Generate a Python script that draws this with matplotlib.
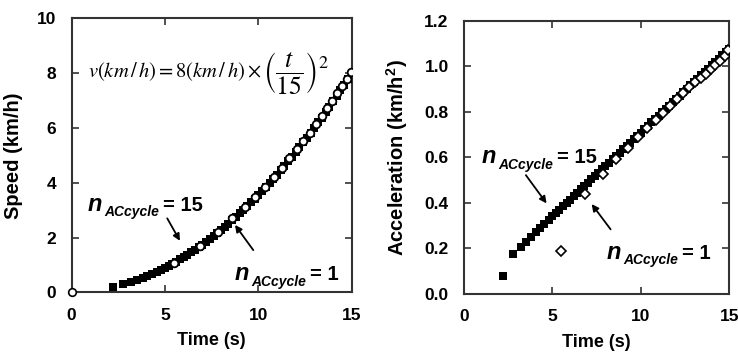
import matplotlib
matplotlib.use("Agg")
import matplotlib.pyplot as plt
from matplotlib.transforms import offset_copy

plt.rcParams['font.family'] = ['Liberation Sans', 'DejaVu Sans']
plt.rcParams['mathtext.fontset'] = 'stix'

# n_ACcycle = 15 (filled squares)
t15 = [2.2, 2.75, 3.2, 3.5, 3.8, 4.05, 4.3, 4.55, 4.8, 5.0, 5.2, 5.4, 5.6, 5.8, 6.0,
       6.2, 6.4, 6.6, 6.8, 7.0, 7.2, 7.4, 7.6, 7.8, 8.0, 8.2, 8.4, 8.6, 8.8, 9.0,
       9.2, 9.4, 9.6, 9.8, 10.0, 10.2, 10.4, 10.6, 10.8, 11.0, 11.2, 11.4, 11.6, 11.8, 12.0,
       12.2, 12.4, 12.6, 12.8, 13.0, 13.2, 13.4, 13.6, 13.8, 14.0, 14.2, 14.4, 14.6, 14.8, 15.0]
v15 = [0.19, 0.30, 0.36, 0.44, 0.51, 0.58, 0.66, 0.74, 0.82, 0.89, 0.96, 1.04, 1.12, 1.20, 1.28,
       1.37, 1.46, 1.55, 1.64, 1.74, 1.84, 1.95, 2.05, 2.16, 2.28, 2.39, 2.51, 2.63, 2.75, 2.88,
       3.01, 3.14, 3.28, 3.42, 3.56, 3.70, 3.85, 4.00, 4.15, 4.30, 4.46, 4.62, 4.79, 4.95, 5.12,
       5.29, 5.47, 5.65, 5.83, 6.01, 6.20, 6.38, 6.58, 6.77, 6.97, 7.17, 7.37, 7.58, 7.79, 8.00]
a15 = [0.08, 0.175, 0.208, 0.230, 0.252, 0.271, 0.289, 0.308, 0.326, 0.341, 0.356, 0.370, 0.385, 0.400, 0.415,
       0.429, 0.444, 0.459, 0.474, 0.488, 0.503, 0.518, 0.533, 0.547, 0.562, 0.577, 0.591, 0.606, 0.621, 0.636,
       0.650, 0.665, 0.680, 0.695, 0.709, 0.724, 0.739, 0.754, 0.768, 0.783, 0.798, 0.812, 0.827, 0.842, 0.857,
       0.871, 0.886, 0.901, 0.916, 0.930, 0.945, 0.960, 0.975, 0.989, 1.004, 1.019, 1.034, 1.048, 1.063, 1.078]

# n_ACcycle = 1 (open markers)
t1 = [5.46, 6.87, 7.84, 8.58, 9.26, 9.84, 10.35, 10.83, 11.26, 11.67, 12.06,
      12.40, 12.75, 13.08, 13.39, 13.67, 13.95, 14.22, 14.49, 14.74, 14.94]
v1 = [1.06, 1.68, 2.19, 2.70, 3.10, 3.49, 3.85, 4.20, 4.55, 4.89, 5.22,
      5.52, 5.82, 6.14, 6.44, 6.72, 6.98, 7.26, 7.52, 7.80, 8.05]
a1 = [0.19, 0.44, 0.527, 0.592, 0.643, 0.689, 0.728, 0.764, 0.796, 0.825, 0.855,
      0.884, 0.907, 0.929, 0.949, 0.968, 0.986, 1.005, 1.024, 1.045, 1.07]
t1_start = [0.0]
v1_start = [0.0]

speed_ticks = [0, 2, 4, 6, 8, 10]
acc_ticks = [0.0, 0.2, 0.4, 0.6, 0.8, 1.0, 1.2]
time_ticks = [0, 5, 10, 15]

fig = plt.figure(figsize=(7.38, 3.6), dpi=100)
ax1 = fig.add_axes([0.0971, 0.188, 0.3794, 0.761])
ax2 = fig.add_axes([0.6287, 0.1833, 0.3595, 0.759])
renderer = fig.canvas.get_renderer()

frame_col = '#333333'
for ax in (ax1, ax2):
    for s in ax.spines.values():
        s.set_linewidth(1.5)
        s.set_color(frame_col)
    ax.tick_params(direction='in', length=5, width=1.2, color=frame_col,
                   top=True, right=True, labelsize=12.5)
    ax.tick_params(axis='x', pad=11)
    ax.tick_params(axis='y', pad=11)


def width_pt(t):
    return t.get_window_extent(renderer).width * 72.0 / fig.dpi


def n_label(ax, x, y, value):
    """Draw n_ACcycle = value, starting at data (x, y) baseline."""
    t_n = ax.text(x, y, 'n', fontsize=17, fontweight='bold', fontstyle='italic',
                  ha='left', va='baseline')
    w_n = width_pt(t_n)
    tr_sub = offset_copy(ax.transData, fig=fig, x=w_n + 1.5, y=-4, units='points')
    t_s = ax.text(x, y, 'ACcycle', fontsize=10, fontweight='bold', fontstyle='italic',
                  ha='left', va='baseline', transform=tr_sub)
    w_s = width_pt(t_s)
    tr_eq = offset_copy(ax.transData, fig=fig, x=w_n + 1.5 + w_s + 3, y=0, units='points')
    ax.text(x, y, '= ' + value, fontsize=14.5, fontweight='bold',
            ha='left', va='baseline', transform=tr_eq)


arrow = dict(arrowstyle='-|>', color='black', lw=1.3, mutation_scale=10, shrinkA=0, shrinkB=0)

# Left: speed
ax1.plot(t15, v15, 's', color='black', markersize=5.5, markeredgewidth=0, zorder=3)
ax1.plot(t1, v1, 'o', markerfacecolor='white', markeredgecolor='black',
         markersize=5.5, markeredgewidth=1.3, zorder=4)
ax1.plot(t1_start, v1_start, 'o', markerfacecolor='white', markeredgecolor='black',
         markersize=5.5, markeredgewidth=1.2, zorder=5, clip_on=False)
ax1.set_xlim(0, 15)
ax1.set_ylim(0, 10)
ax1.set_xticks(time_ticks)
ax1.set_yticks(speed_ticks)
ax1.set_xticklabels([str(v) for v in time_ticks], fontweight='bold')
ax1.set_yticklabels([str(v) for v in speed_ticks], fontweight='bold')
ax1.set_xlabel('Time (s)', fontsize=13, fontweight='bold', labelpad=7)
ax1.set_ylabel('Speed (km/h)', fontsize=14.5, fontweight='bold', labelpad=10)

# formula: main part + enlarged bracketed fraction
f_main = ax1.text(0.87, 7.85, r'$v(km\,/\,h) = 8(km\,/\,h)\times$',
                  fontsize=14.8, ha='left', va='baseline')
w_main = width_pt(f_main)
tr_frac = offset_copy(ax1.transData, fig=fig, x=w_main + 1, y=0, units='points')
ax1.text(0.87, 7.85, r'$\left(\dfrac{t}{15}\right)^{2}$', fontsize=18.5,
         ha='left', va='baseline', transform=tr_frac)

n_label(ax1, 0.87, 2.98, '15')
ax1.annotate('', xy=(5.80, 1.88), xytext=(5.12, 2.70), arrowprops=arrow)
n_label(ax1, 8.75, 0.45, '1')
ax1.annotate('', xy=(8.75, 2.46), xytext=(9.73, 1.54), arrowprops=arrow)

# Right: acceleration
ax2.plot(t15, a15, 's', color='black', markersize=5.5, markeredgewidth=0, zorder=3)
ax2.plot(t1, a1, 'D', markerfacecolor='white', markeredgecolor='black',
         markersize=5.5, markeredgewidth=1.2, zorder=4)
ax2.set_xlim(0, 15)
ax2.set_ylim(0, 1.2)
ax2.set_xticks(time_ticks)
ax2.set_yticks(acc_ticks)
ax2.set_xticklabels([str(v) for v in time_ticks], fontweight='bold')
ax2.set_yticklabels(['%.1f' % v for v in acc_ticks], fontweight='bold')
ax2.set_xlabel('Time (s)', fontsize=13, fontweight='bold', labelpad=7)
ax2.set_ylabel('Acceleration (km/h$^{\\mathregular{2}}$)', fontsize=14.5, fontweight='bold', labelpad=10)

n_label(ax2, 1.0, 0.575, '15')
ax2.annotate('', xy=(4.67, 0.398), xytext=(3.50, 0.522), arrowprops=arrow)
n_label(ax2, 8.07, 0.155, '1')
ax2.annotate('', xy=(7.22, 0.395), xytext=(8.29, 0.284), arrowprops=arrow)

fig.savefig('out.png', dpi=100)
